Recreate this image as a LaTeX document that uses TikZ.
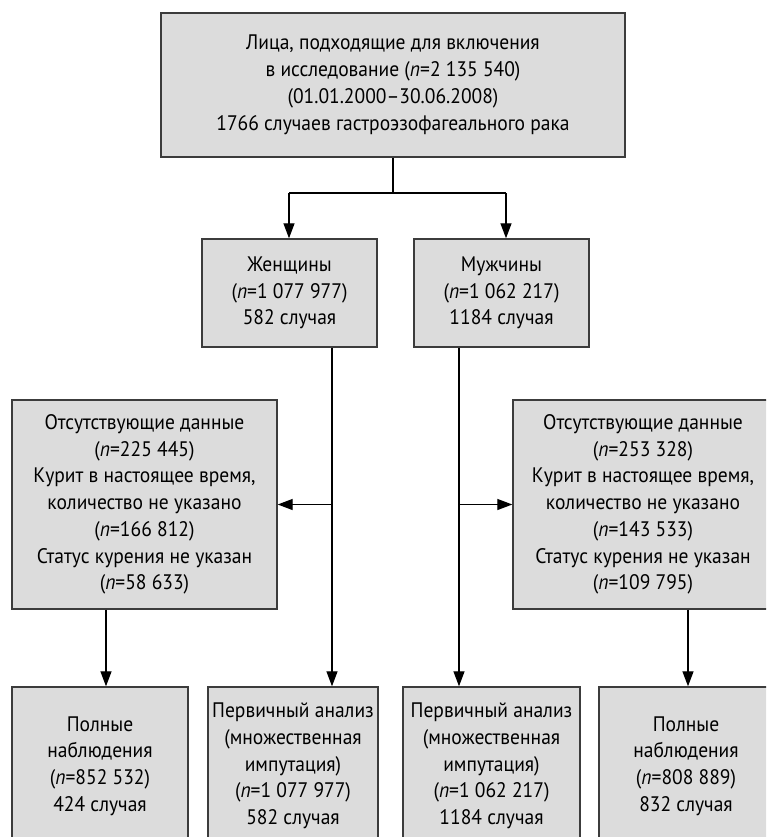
\documentclass[tikz,border=0pt]{standalone}
\usepackage{fontspec}
\setmainfont{PT Sans}[FakeStretch=0.93]
\usetikzlibrary{arrows.meta}
\definecolor{boxfill}{RGB}{220,220,220}
\definecolor{boxline}{RGB}{60,60,60}
\tikzset{
  box/.style={draw=boxline, fill=boxfill, line width=1.4pt, align=center, inner sep=0pt,
    font=\fontsize{21}{26.7}\selectfont},
  conn/.style={draw=black, line width=1.3pt},
  arr/.style={conn, -{Triangle[length=15pt,width=11pt]}}
}
\newcommand{\nn}{\textit{n}}
\begin{document}
\begin{tikzpicture}[x=1pt,y=-1pt]
\useasboundingbox (0,0) rectangle (766,837);
\clip (0,0) rectangle (766,837);
\fill[white] (0,0) rectangle (766,837);
\node[box, minimum width=464pt, minimum height=144pt,
  font=\fontsize{21}{27}\selectfont] (top) at (393,85)
  {Лица, подходящие для включения\\в исследование (\nn=2 135 540)\\(01.01.2000–30.06.2008)\\1766 случаев гастроэзофагеального рака};
\node[box, minimum width=175pt, minimum height=108pt] (women) at (289.5,293)
  {Женщины\\(\nn=1 077 977)\\582 случая};
\node[box, minimum width=175pt, minimum height=108pt] (men) at (501.5,293)
  {Мужчины\\(\nn=1 062 217)\\1184 случая};
\node[box, minimum width=265pt, minimum height=209pt] (missL) at (144.5,504.5)
  {Отсутствующие данные\\(\nn=225 445)\\Курит в настоящее время,\\количество не указано\\(\nn=166 812)\\Статус курения не указан\\(\nn=58 633)};
\node[box, minimum width=260pt, minimum height=209pt] (missR) at (643,504.5)
  {Отсутствующие данные\\(\nn=253 328)\\Курит в настоящее время,\\количество не указано\\(\nn=143 533)\\Статус курения не указан\\(\nn=109 795)};
\node[box, minimum width=176pt, minimum height=158pt] (b1) at (100,766)
  {Полные\\наблюдения\\(\nn=852 532)\\424 случая};
\node[box, minimum width=170pt, minimum height=158pt] (b2) at (293,766)
  {Первичный анализ\\(множественная\\импутация)\\(\nn=1 077 977)\\582 случая};
\node[box, minimum width=177pt, minimum height=158pt] (b3) at (491.5,766)
  {Первичный анализ\\(множественная\\импутация)\\(\nn=1 062 217)\\1184 случая};
\node[box, minimum width=174pt, minimum height=158pt] (b4) at (686,766)
  {Полные\\наблюдения\\(\nn=808 889)\\832 случая};
\coordinate (sp) at (393,193);
\coordinate (sl) at (289,193);
\coordinate (sr) at (506,193);
\coordinate (wx) at (332,0);
\coordinate (mx) at (459,0);
\coordinate (lx) at (106,0);
\coordinate (rx) at (688,0);
\draw[conn] (top.south) -- (sp);
\draw[conn] (sl) -- (sr);
\draw[arr] (sl) -- (sl |- women.north);
\draw[arr] (sr) -- (sr |- men.north);
\draw[arr] (women.south -| wx) -- (wx |- b2.north);
\draw[arr] (men.south -| mx) -- (mx |- b3.north);
\draw[arr] (wx |- missL.east) -- (missL.east);
\draw[arr] (mx |- missR.west) -- (missR.west);
\draw[arr] (missL.south -| lx) -- (lx |- b1.north);
\draw[arr] (missR.south -| rx) -- (rx |- b4.north);
\end{tikzpicture}
\end{document}
